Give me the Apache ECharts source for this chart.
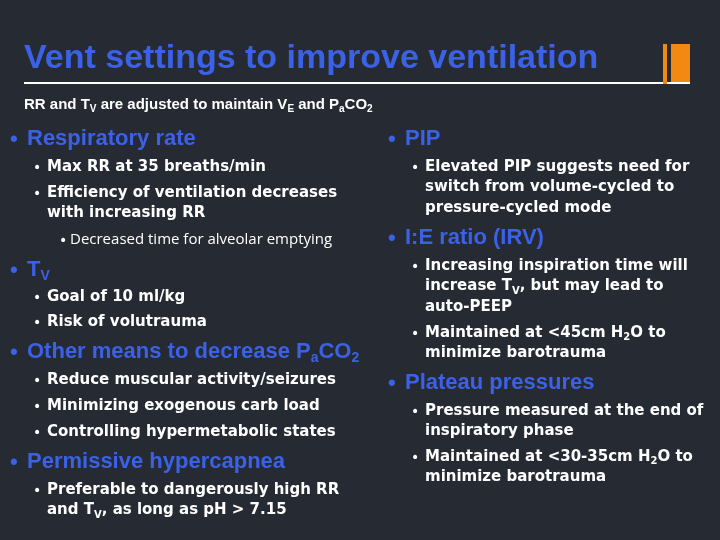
<!DOCTYPE html>
<html>
<head>
<meta charset="utf-8">
<script src="https://cdn.jsdelivr.net/npm/echarts@6/dist/echarts.min.js"></script>
<style>html,body{margin:0;padding:0;background:#262a33}#main{width:720px;height:540px}</style>
</head>
<body>
<div id="main"></div>
<script>
// slide text, {s|..} marks subscripts
var title = 'Vent settings to improve ventilation'
var subtitle = 'RR and T{s|V} are adjusted to maintain V{s|E} and P{s|a}CO{s|2}'
var leftItems = [
    ['h', 'Respiratory rate'],
    ['b', 'Max RR at 35 breaths/min'],
    ['b', 'Efficiency of ventilation decreases', 'with increasing RR'],
    ['c', 'Decreased time for alveolar emptying'],
    ['h', 'T{hs|V}'],
    ['b', 'Goal of 10 ml/kg'],
    ['b', 'Risk of volutrauma'],
    ['h', 'Other means to decrease P{hs|a}CO{hs|2}'],
    ['b', 'Reduce muscular activity/seizures'],
    ['b', 'Minimizing exogenous carb load'],
    ['b', 'Controlling hypermetabolic states'],
    ['h', 'Permissive hypercapnea'],
    ['b', 'Preferable to dangerously high RR', 'and T{s|V}, as long as pH > 7.15']
]
var rightItems = [
    ['h', 'PIP'],
    ['b', 'Elevated PIP suggests need for', 'switch from volume-cycled to', 'pressure-cycled mode'],
    ['h', 'I:E ratio (IRV)'],
    ['b', 'Increasing inspiration time will', 'increase T{s|V}, but may lead to', 'auto-PEEP'],
    ['b', 'Maintained at <45cm H{s|2}O to', 'minimize barotrauma'],
    ['h', 'Plateau pressures'],
    ['b', 'Pressure measured at the end of', 'inspiratory phase'],
    ['b', 'Maintained at <30-35cm H{s|2}O to', 'minimize barotrauma']
]
var leftY = [139, 167, 193, 240, 270, 297, 322, 352, 380, 406, 432, 462, 490]
var rightY = [139, 167, 238, 266, 333, 383, 411, 457]

var blue = '#3b62e6'
var styles = {
    h: {font: 'bold 22px "Liberation Sans"', fill: blue, dx: 17, lh: 21},
    b: {font: 'bold 15px "DejaVu Sans"', fill: '#ffffff', dx: 14, lh: 20.5},
    c: {font: '15px "Open Sans"', fill: '#ffffff', dx: 11, lh: 20}
}
var rich = {
    s: {fontSize: 10, fontWeight: 'bold', fontFamily: 'DejaVu Sans', color: '#fff', padding: [9, 0, 0, 0]},
    hs: {fontSize: 14, fontWeight: 'bold', fontFamily: 'Liberation Sans', color: blue, padding: [12, 0, 0, 0]}
}
var indent = {h: 0, b: 23, c: 49}

function column(items, ys, x0, elements) {
    items.forEach(function (it, i) {
        var st = styles[it[0]]
        var bx = x0 + indent[it[0]]
        elements.push({type: 'text', x: bx, y: ys[i] + 1,
            style: {text: '•', font: it[0] === 'h' ? 'bold 22px "Liberation Sans"' : '14px "DejaVu Sans"', fill: st.fill, verticalAlign: 'middle'}})
        for (var k = 1; k < it.length; k++) {
            elements.push({type: 'text', x: bx + st.dx, y: ys[i] + (k - 1) * st.lh,
                style: {text: it[k], font: st.font, fill: st.fill, verticalAlign: 'middle', rich: rich}})
        }
    })
}

var elements = [
    {type: 'text', x: 24, y: 59, style: {text: title, font: 'bold 34px "Liberation Sans"', fill: blue, verticalAlign: 'middle'}},
    {type: 'rect', shape: {x: 24, y: 82, width: 666, height: 2}, style: {fill: '#ffffff'}},
    {type: 'rect', shape: {x: 663, y: 44, width: 4, height: 40}, style: {fill: '#f28a12'}},
    {type: 'rect', shape: {x: 671, y: 44, width: 19, height: 38}, style: {fill: '#f28a12'}},
    {type: 'text', x: 24, y: 105, style: {text: subtitle, font: 'bold 15px "Liberation Sans"', fill: '#ffffff', verticalAlign: 'middle',
        rich: {s: {fontSize: 10, fontWeight: 'bold', fontFamily: 'Liberation Sans', color: '#fff', padding: [9, 0, 0, 0]}}}}
]
column(leftItems, leftY, 10, elements)
column(rightItems, rightY, 388, elements)

var chart = echarts.init(document.getElementById('main'))
chart.setOption({backgroundColor: '#262a33', graphic: {elements: elements}})
</script>
</body>
</html>
